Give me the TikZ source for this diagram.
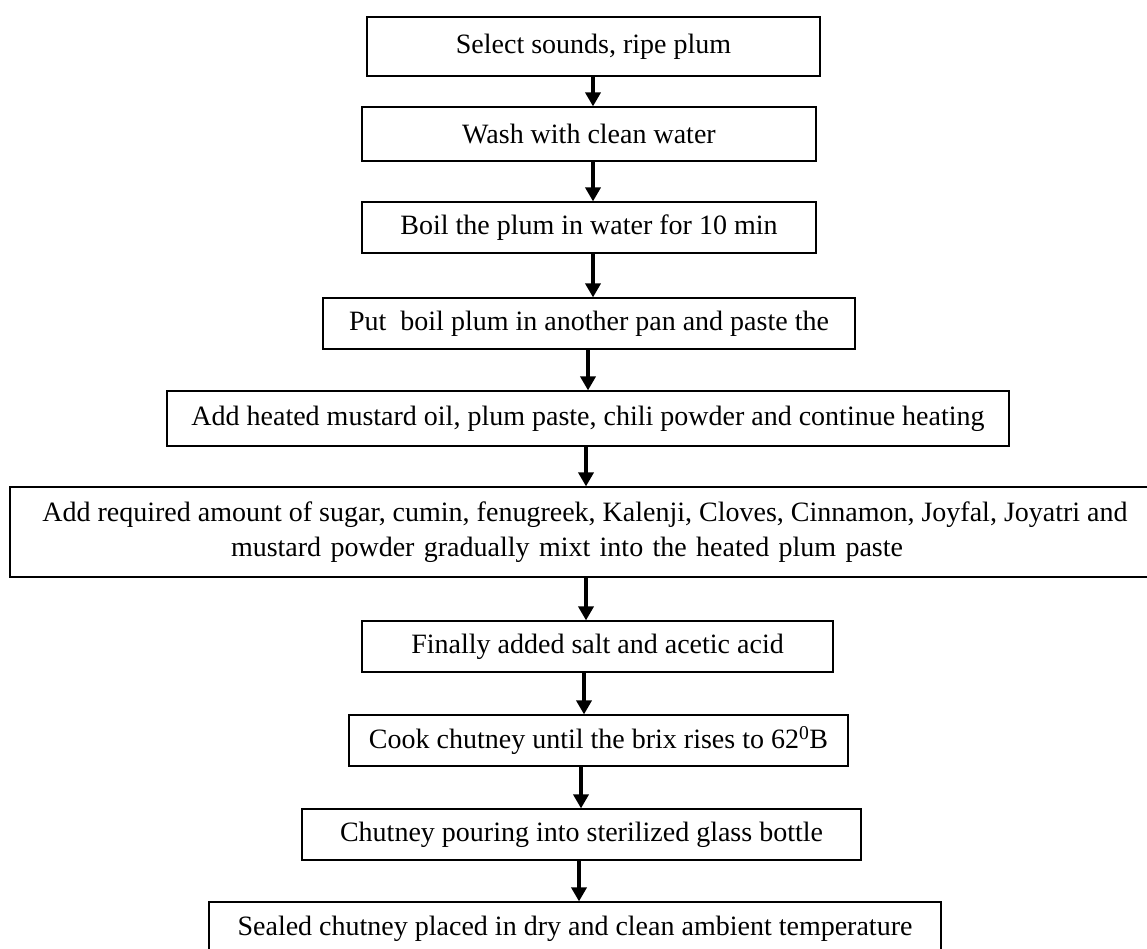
\documentclass[tikz,border=0pt]{standalone}
\usepackage{fontspec}
\setmainfont{Liberation Serif}
\usetikzlibrary{arrows.meta}
\begin{document}
\begin{tikzpicture}[x=1pt,y=-1pt,
  box/.style={draw, line width=1.2pt, rectangle, inner sep=0pt, anchor=center,
    font=\fontsize{28}{35}\selectfont, align=center},
  arr/.style={line width=4.5pt, -{Triangle[width=15pt,length=14pt]}}]
\clip (0,0) rectangle (1147,949);
\useasboundingbox (0,0) rectangle (1147,949);
\fill[white] (0,0) rectangle (1147,949);
\node[box, minimum width=453pt, minimum height=59pt] (b1) at (593.5,46.5) {Select sounds, ripe plum};
\node[box, minimum width=454pt, minimum height=54pt] (b2) at (589,134) {Wash with clean water};
\node[box, minimum width=454pt, minimum height=51pt] (b3) at (589,227.5) {Boil the plum in water for 10 min};
\node[box, minimum width=532pt, minimum height=51pt] (b4) at (589,323.5) {Put~~boil plum in another pan and paste the};
\node[box, minimum width=842pt, minimum height=55pt] (b5) at (588,418.5) {Add heated mustard oil, plum paste, chili powder and continue heating};
\node[box, minimum width=1150pt, minimum height=90pt] (b6) at (585,532) {Add required amount of sugar, cumin, fenugreek, Kalenji, Cloves, Cinnamon, Joyfal, Joyatri and\\ \makebox[672pt][s]{mustard powder gradually mixt into the heated plum paste}\hspace*{36pt}};
\node[box, minimum width=471pt, minimum height=51pt] (b7) at (597.5,646.5) {Finally added salt and acetic acid};
\node[box, minimum width=499pt, minimum height=51pt] (b8) at (598.5,740.5) {Cook chutney until the brix rises to 62\textsuperscript{0}B};
\node[box, minimum width=559pt, minimum height=51pt] (b9) at (581.5,834.5) {Chutney pouring into sterilized glass bottle};
\node[box, minimum width=732pt, minimum height=54pt] (b10) at (575,929) {Sealed chutney placed in dry and clean ambient temperature};
\draw[arr] (593,0 |- b1.south) -- (593,0 |- b2.north);
\draw[arr] (593,0 |- b2.south) -- (593,0 |- b3.north);
\draw[arr] (593,0 |- b3.south) -- (593,0 |- b4.north);
\draw[arr] (588,0 |- b4.south) -- (588,0 |- b5.north);
\draw[arr] (586,0 |- b5.south) -- (586,0 |- b6.north);
\draw[arr] (586,0 |- b6.south) -- (586,0 |- b7.north);
\draw[arr] (584,0 |- b7.south) -- (584,0 |- b8.north);
\draw[arr] (581,0 |- b8.south) -- (581,0 |- b9.north);
\draw[arr] (579,0 |- b9.south) -- (579,0 |- b10.north);
\end{tikzpicture}
\end{document}
